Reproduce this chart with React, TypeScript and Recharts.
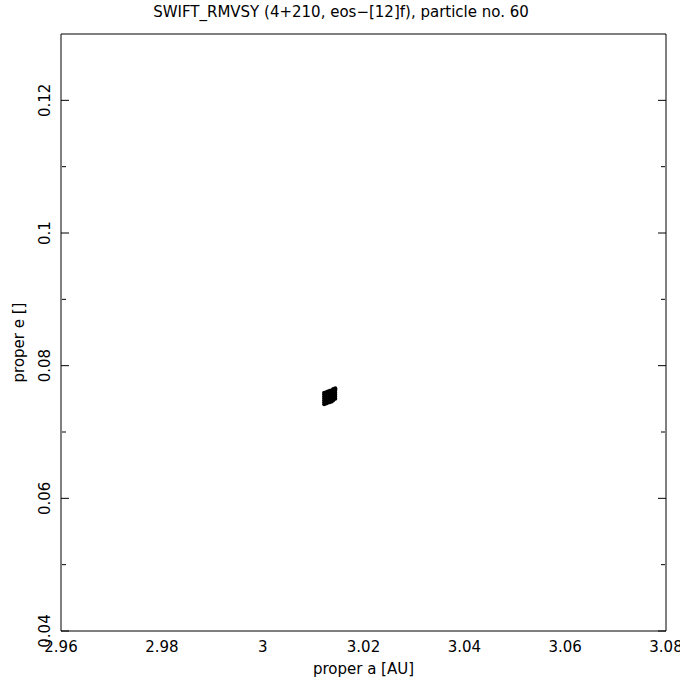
import React from 'react'
import { ScatterChart, Scatter, XAxis, YAxis, Label } from 'recharts'

// proper elements of particle 60 (a in AU, e dimensionless)
const properA = [
  3.0122, 3.0122, 3.0122, 3.0122, 3.0122, 3.0122, 3.0122,
  3.0126, 3.0126, 3.0126, 3.0126, 3.0126, 3.0126, 3.0126,
  3.0129, 3.0129, 3.0129, 3.0129, 3.0129, 3.0129, 3.0129,
  3.0133, 3.0133, 3.0133, 3.0133, 3.0133, 3.0133, 3.0133,
  3.0137, 3.0137, 3.0137, 3.0137, 3.0137, 3.0137, 3.0137,
  3.014, 3.014, 3.014, 3.014, 3.014, 3.014, 3.014,
  3.0144, 3.0144, 3.0144, 3.0144, 3.0144, 3.0144, 3.0144,
]
const properE = [
  0.0742, 0.0745, 0.0748, 0.0751, 0.0754, 0.0757, 0.0759,
  0.0743, 0.0746, 0.0749, 0.0752, 0.0755, 0.0758, 0.076,
  0.0744, 0.0747, 0.075, 0.0753, 0.0756, 0.0759, 0.0761,
  0.0745, 0.0748, 0.0751, 0.0754, 0.0757, 0.076, 0.0762,
  0.0746, 0.0749, 0.0752, 0.0755, 0.0758, 0.0761, 0.0763,
  0.0748, 0.0751, 0.0754, 0.0757, 0.076, 0.0763, 0.0765,
  0.075, 0.0753, 0.0756, 0.0759, 0.0762, 0.0764, 0.0766,
]

const aDomain = [2.96, 3.08]
const eDomain = [0.04, 0.13]
const aTicks = [2.96, 2.98, 3, 3.02, 3.04, 3.06, 3.08]
const aMinor = [2.97, 2.99, 3.01, 3.03, 3.05, 3.07]
const eTicks = [0.04, 0.06, 0.08, 0.1, 0.12]
const eMinor = [0.05, 0.07, 0.09, 0.11]

const points = properA.map((a, i) => ({ a, e: properE[i] }))

const FONT = '"DejaVu Sans", sans-serif'
const line = { stroke: '#000', strokeWidth: 1 }
const blank = () => ''

const YTick = (props: any) => {
  const { x, y, payload } = props
  return (
    <text
      x={x}
      y={y}
      transform={`rotate(-90 ${x} ${y})`}
      textAnchor="middle"
      fontSize={15}
      fontFamily={FONT}
      fill="#000"
    >
      {String(payload.value)}
    </text>
  )
}

const YTitle = (props: any) => {
  const { viewBox } = props
  const x = viewBox.x + 3
  const y = viewBox.y + viewBox.height / 2 + 10
  return (
    <text
      x={x}
      y={y}
      transform={`rotate(-90 ${x} ${y})`}
      textAnchor="middle"
      fontSize={15}
      fontFamily={FONT}
      fill="#000"
    >
      proper e []
    </text>
  )
}

const Dot = (props: any) => <circle cx={props.cx} cy={props.cy} r={2} fill="#000" />

export default function App() {
  return (
    <div style={{ position: 'absolute', left: 0, top: 0, width: 680, height: 680, background: '#fff' }}>
      <div
        style={{
          position: 'absolute',
          top: 3,
          left: 0,
          width: 682,
          textAlign: 'center',
          fontFamily: FONT,
          fontSize: 15,
          color: '#000',
        }}
      >
        SWIFT_RMVSY (4+210, eos−[12]f), particle no. 60
      </div>
      <ScatterChart width={680} height={680} margin={{ top: 34, right: 14, bottom: 19, left: 21 }}>
        {/* label axes */}
        <XAxis
          xAxisId="a"
          dataKey="a"
          type="number"
          domain={aDomain}
          ticks={aTicks}
          allowDataOverflow
          height={30}
          tickSize={0}
          tickLine={false}
          tickMargin={10}
          axisLine={line}
          tick={{ fill: '#000', fontSize: 15, fontFamily: FONT }}
        >
          <Label
            value="proper a [AU]"
            position="bottom"
            offset={2}
            style={{ fill: '#000', fontSize: 15, fontFamily: FONT }}
          />
        </XAxis>
        <YAxis
          yAxisId="e"
          dataKey="e"
          type="number"
          domain={eDomain}
          ticks={eTicks}
          allowDataOverflow
          width={40}
          tickSize={0}
          tickLine={false}
          tickMargin={11}
          axisLine={line}
          tick={<YTick />}
        >
          <Label content={<YTitle />} />
        </YAxis>

        {/* inward major ticks */}
        <XAxis xAxisId="bMaj" type="number" domain={aDomain} ticks={aTicks} allowDataOverflow orientation="bottom" mirror height={1} tickSize={8} tickLine={line} axisLine={false} tickFormatter={blank} />
        <XAxis xAxisId="tMaj" type="number" domain={aDomain} ticks={aTicks} allowDataOverflow orientation="top" mirror height={1} tickSize={8} tickLine={line} axisLine={line} tickFormatter={blank} />
        <YAxis yAxisId="lMaj" type="number" domain={eDomain} ticks={eTicks} allowDataOverflow orientation="left" mirror width={1} tickSize={8} tickLine={line} axisLine={false} tickFormatter={blank} />
        <YAxis yAxisId="rMaj" type="number" domain={eDomain} ticks={eTicks} allowDataOverflow orientation="right" mirror width={1} tickSize={8} tickLine={line} axisLine={line} tickFormatter={blank} />

        {/* inward minor ticks */}
        <XAxis xAxisId="bMin" type="number" domain={aDomain} ticks={aMinor} allowDataOverflow orientation="bottom" mirror height={1} tickSize={4} tickLine={line} axisLine={false} tickFormatter={blank} />
        <XAxis xAxisId="tMin" type="number" domain={aDomain} ticks={aMinor} allowDataOverflow orientation="top" mirror height={1} tickSize={4} tickLine={line} axisLine={false} tickFormatter={blank} />
        <YAxis yAxisId="lMin" type="number" domain={eDomain} ticks={eMinor} allowDataOverflow orientation="left" mirror width={1} tickSize={4} tickLine={line} axisLine={false} tickFormatter={blank} />
        <YAxis yAxisId="rMin" type="number" domain={eDomain} ticks={eMinor} allowDataOverflow orientation="right" mirror width={1} tickSize={4} tickLine={line} axisLine={false} tickFormatter={blank} />

        <Scatter xAxisId="a" yAxisId="e" data={points} shape={<Dot />} isAnimationActive={false} />
      </ScatterChart>
    </div>
  )
}
